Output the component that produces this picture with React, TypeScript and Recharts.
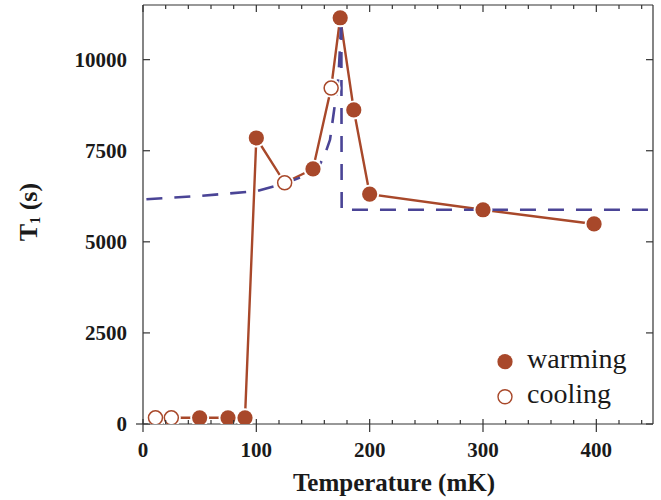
import React from 'react';
import { ComposedChart, Line, Scatter, XAxis, YAxis, Legend } from 'recharts';

// Spin-lattice relaxation time T1 (s) versus temperature (mK)
const warmingT = [50, 75, 90, 100, 150, 174, 186, 200, 300, 398];
const warmingT1 = [170, 170, 170, 7850, 7000, 11150, 8620, 6310, 5880, 5490];

const coolingT = [11, 25, 125, 166];
const coolingT1 = [170, 170, 6620, 9220];

// Model curve (dashed)
const modelT = [3, 50, 100, 125, 145, 155, 160, 165, 169, 171, 172.5, 174, 175, 175.3, 450];
const modelT1 = [6170, 6260, 6390, 6600, 6840, 7070, 7350, 7800, 8700, 9100, 9550, 10450, 11150, 5880, 5880];

const xTicks = [0, 20, 40, 60, 80, 100, 120, 140, 160, 180, 200, 220, 240, 260, 280, 300, 320, 340, 360, 380, 400, 420, 440];
const yTicks = [0, 2500, 5000, 7500, 10000];

const BROWN = '#A8482A';
const BLUE = '#4A4496';
const AXIS = '#333';
const FONT = 'Liberation Serif, Times New Roman, serif';

const zip = (ts: number[], vs: number[]) => ts.map((t, i) => ({ t, v: vs[i] }));
const warming = zip(warmingT, warmingT1);
const cooling = zip(coolingT, coolingT1);
const measured = [...warming, ...cooling].sort((a, b) => a.t - b.t);
const model = zip(modelT, modelT1);

const BottomTick = (props: any) => {
  const { x, y, payload } = props;
  const major = payload.value % 100 === 0;
  return (
    <g>
      {major ? (
        <line x1={x} x2={x} y1={y - 5} y2={y + 8} stroke={AXIS} strokeWidth={1.2} />
      ) : (
        <line x1={x} x2={x} y1={y - 4} y2={y} stroke={AXIS} strokeWidth={1.2} />
      )}
      {major && (
        <text x={x} y={y + 33} textAnchor="middle" fontFamily={FONT} fontWeight="bold" fontSize={21} fill="#1a1a1a">
          {payload.value}
        </text>
      )}
    </g>
  );
};

const TopTick = (props: any) => {
  const { x, y, payload } = props;
  const major = payload.value % 100 === 0;
  return <line x1={x} x2={x} y1={y} y2={y + (major ? 7 : 4)} stroke={AXIS} strokeWidth={1.2} />;
};

const LeftTick = (props: any) => {
  const { x, y, payload } = props;
  return (
    <g>
      <line x1={payload.value === 0 ? x - 7 : x} x2={x + 7} y1={y} y2={y} stroke={AXIS} strokeWidth={1.2} />
      <text x={x - 16} y={y + 7} textAnchor="end" fontFamily={FONT} fontWeight="bold" fontSize={21} fill="#1a1a1a">
        {payload.value}
      </text>
    </g>
  );
};

const RightTick = (props: any) => {
  const { x, y } = props;
  return <line x1={x - 7} x2={x} y1={y} y2={y} stroke={AXIS} strokeWidth={1.2} />;
};

const Halo = (props: any) => {
  const { cx, cy } = props;
  if (cx == null || cy == null) return null;
  return <circle cx={cx} cy={cy} r={9.5} fill="#fff" />;
};

const Filled = (props: any) => {
  const { cx, cy } = props;
  if (cx == null || cy == null) return null;
  return <circle cx={cx} cy={cy} r={7.6} fill={BROWN} />;
};

const Open = (props: any) => {
  const { cx, cy } = props;
  if (cx == null || cy == null) return null;
  return <circle cx={cx} cy={cy} r={7} fill="none" stroke={BROWN} strokeWidth={1.5} />;
};

const XLabel = (props: any) => {
  const vb = props.viewBox || { x: 143, y: 424, width: 510 };
  return (
    <text x={vb.x + vb.width / 2 - 4} y={vb.y + 67} textAnchor="middle" fontFamily={FONT} fontWeight="bold" fontSize={25} fill="#1a1a1a">
      Temperature (mK)
    </text>
  );
};

const YLabel = () => (
  <text
    x={37}
    y={212}
    transform="rotate(-90, 37, 212)"
    textAnchor="middle"
    fontFamily={FONT}
    fontWeight="bold"
    fontSize={26}
    fill="#1a1a1a"
  >
    T
    <tspan fontSize={14} dy={3}>1</tspan>
    <tspan dy={-3}> (s)</tspan>
  </text>
);

const LegendBox = () => (
  <div style={{ position: 'absolute', left: 0, top: 0, width: 170, height: 75 }}>
    <svg width={170} height={75} style={{ display: 'block' }}>
      <circle cx={11} cy={18.7} r={7.6} fill={BROWN} />
      <text x={33} y={25} fontFamily={FONT} fontSize={28} fill="#1a1a1a">warming</text>
      <circle cx={11} cy={53.7} r={7} fill="none" stroke={BROWN} strokeWidth={1.4} />
      <text x={33} y={60} fontFamily={FONT} fontSize={28} fill="#1a1a1a">cooling</text>
    </svg>
  </div>
);

export default function App() {
  return (
    <div style={{ position: 'absolute', left: 0, top: 0, width: 661, height: 500, background: '#fff' }}>
      <ComposedChart width={661} height={500} margin={{ top: 4, right: 7, bottom: 0, left: 0 }}>
        <XAxis
          xAxisId="b"
          type="number"
          dataKey="t"
          domain={[0, 450]}
          ticks={xTicks}
          interval={0}
          tickSize={0}
          tickMargin={0}
          tickLine={false}
          tick={BottomTick}
          axisLine={{ stroke: AXIS, strokeWidth: 1.2 }}
          height={76}
          allowDataOverflow
          label={XLabel}
        />
        <XAxis
          xAxisId="top"
          orientation="top"
          type="number"
          dataKey="t"
          domain={[0, 450]}
          ticks={xTicks}
          interval={0}
          tickSize={0}
          tickMargin={0}
          tickLine={false}
          tick={TopTick}
          axisLine={{ stroke: AXIS, strokeWidth: 1.2 }}
          height={1}
          allowDataOverflow
        />
        <YAxis
          yAxisId="l"
          type="number"
          dataKey="v"
          domain={[0, 11500]}
          ticks={yTicks}
          interval={0}
          tickSize={0}
          tickMargin={0}
          tickLine={false}
          tick={LeftTick}
          axisLine={{ stroke: AXIS, strokeWidth: 1.2 }}
          width={143}
          allowDataOverflow
          label={YLabel}
        />
        <YAxis
          yAxisId="r"
          orientation="right"
          type="number"
          dataKey="v"
          domain={[0, 11500]}
          ticks={yTicks}
          interval={0}
          tickSize={0}
          tickMargin={0}
          tickLine={false}
          tick={RightTick}
          axisLine={{ stroke: AXIS, strokeWidth: 1.2 }}
          width={1}
          allowDataOverflow
        />
        <Line
          xAxisId="b"
          yAxisId="l"
          data={measured}
          dataKey="v"
          type="linear"
          stroke={BROWN}
          strokeWidth={2.4}
          dot={false}
          activeDot={false}
          legendType="none"
          isAnimationActive={false}
        />
        <Scatter xAxisId="b" yAxisId="l" data={measured} dataKey="v" shape={Halo} legendType="none" isAnimationActive={false} />
        <Scatter xAxisId="b" yAxisId="l" name="warming" data={warming} dataKey="v" shape={Filled} isAnimationActive={false} />
        <Scatter xAxisId="b" yAxisId="l" name="cooling" data={cooling} dataKey="v" shape={Open} isAnimationActive={false} />
        <Line
          xAxisId="b"
          yAxisId="l"
          data={model}
          dataKey="v"
          type="linear"
          stroke={BLUE}
          strokeWidth={2.6}
          strokeDasharray="16 12"
          dot={false}
          activeDot={false}
          legendType="none"
          isAnimationActive={false}
        />
        <Legend
          content={LegendBox}
          wrapperStyle={{ position: 'absolute', left: 494, top: 343, width: 0, height: 0, overflow: 'visible' }}
        />
      </ComposedChart>
    </div>
  );
}
